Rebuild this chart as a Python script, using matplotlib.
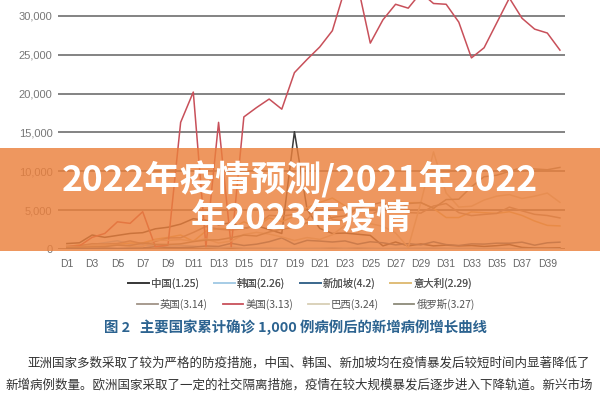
import matplotlib
matplotlib.use("Agg")
from matplotlib import pyplot as plt
from matplotlib.patches import Rectangle
from matplotlib.lines import Line2D

plt.rcParams['font.family'] = ['Noto Sans CJK SC', 'DejaVu Sans']

# Days D1..D40 after 1,000 cumulative cases
days = list(range(1, 41))
tick_days = list(range(1, 40, 2))
tick_labels = ["D%d" % d for d in tick_days]
y_ticks = [0, 5000, 10000, 15000, 20000, 25000, 30000]

china = [700, 800, 1800, 1500, 1750, 2000, 2100, 2600, 2800, 3200, 3900, 3700, 3100, 3400,
         2650, 3000, 2500, 2000, 15100, 5100, 2650, 2000, 2050, 1900, 1750, 400, 900, 400,
         650, 400, 500, 400, 450, 330, 430, 570, 200, 130, 120, 140]
korea = [280, 500, 570, 810, 1060, 600, 520, 440, 520, 480, 370, 250, 130, 240, 110, 110,
         110, 80, 70, 85, 95, 150, 90, 150, 100, 65, 75, 100, 105, 125, 100, 90, 85, 95, 80,
         50, 50, 55, 40, 30]
singapore = [50, 65, 75, 120, 70, 110, 140, 290, 200, 190, 230, 390, 330, 730, 450, 620, 940,
             1430, 600, 1110, 1020, 900, 1040, 620, 930, 800, 530, 690, 530, 930, 570, 450,
             660, 630, 750, 740, 880, 490, 800, 880]
italy = [240, 560, 350, 470, 590, 770, 780, 1250, 1490, 1800, 980, 2310, 2650, 2550, 3500,
         2820, 4000, 3530, 4210, 5320, 5990, 6560, 5560, 4790, 5250, 5210, 6150, 5960, 5970,
         5220, 4050, 4050, 4780, 4670, 4590, 4800, 4320, 3600, 3040, 2970]
uk = [340, 410, 680, 640, 710, 1040, 670, 970, 1430, 1450, 2130, 2890, 2550, 2430, 2620, 3010,
      4320, 4240, 4450, 3740, 5900, 3800, 3630, 5490, 4340, 5250, 5230, 4680, 4620, 5530, 5850,
      4680, 4300, 4450, 4580, 5390, 4910, 4460, 4310, 4000]
usa = [300, 400, 1500, 2000, 3500, 3300, 4800, 300, 500, 16300, 20200, 300, 16300, 300, 17000,
       18200, 19300, 18000, 22700, 24400, 26000, 28100, 33500, 34000, 26500, 29500, 31500,
       31000, 33000, 31600, 31500, 29200, 24600, 25900, 29100, 32300, 29700, 28300, 27800, 25600]
brazil = [350, 230, 480, 500, 490, 350, 320, 1140, 1120, 1210, 1010, 1300, 770, 1030, 1870,
          2140, 1920, 1550, 1090, 1470, 1240, 1830, 3060, 2110, 3260, 2920, 2060, 200, 6000,
          12500, 7200, 5400, 5500, 6300, 6800, 7000, 6500, 6800, 7200, 6000]
russia = [200, 230, 270, 300, 500, 440, 770, 600, 580, 660, 950, 1150, 1180, 1460, 1790, 1670,
          2190, 2560, 2770, 3390, 3450, 4070, 4270, 5240, 5640, 6060, 4770, 5850, 5970, 5240,
          6360, 6410, 8000, 9300, 9500, 10000, 10500, 10300, 10200, 10500]

series = [
    ("中国(1.25)", china, "#3a3a3a"),
    ("韩国(2.26)", korea, "#a8cde6"),
    ("新加坡(4.2)", singapore, "#3e6a8f"),
    ("意大利(2.29)", italy, "#e0be7a"),
    ("英国(3.14)", uk, "#a09387"),
    ("美国(3.13)", usa, "#c8505a"),
    ("巴西(3.24)", brazil, "#d8cfb5"),
    ("俄罗斯(3.27)", russia, "#8c8a7a"),
]

title_lines = ["2022年疫情预测/2021年2022", "年2023年疫情"]
caption = "图 2   主要国家累计确诊 1,000 例病例后的新增病例增长曲线"
body_lines = ["亚洲国家多数采取了较为严格的防疫措施，中国、韩国、新加坡均在疫情暴发后较短时间内显著降低了",
              "新增病例数量。欧洲国家采取了一定的社交隔离措施，疫情在较大规模暴发后逐步进入下降轨道。新兴市场"]


def main():
    fig = plt.figure(figsize=(6, 4), dpi=100)
    fig.patch.set_facecolor("white")
    ax = fig.add_axes([58 / 600, 151 / 400, 507 / 600, 249 / 400])

    for name, vals, color in series:
        ax.plot(days, vals, color=color, lw=1.1, label=name)

    ax.set_xlim(0.3, 40.4)
    ax.set_ylim(0, 32050)
    ax.set_yticks(y_ticks)
    ax.set_yticklabels(["{:,}".format(v) for v in y_ticks], family="Liberation Sans",
                       fontsize=8, color="#777777")
    ax.set_xticks(tick_days)
    ax.set_xticklabels(tick_labels, family="Liberation Sans", fontsize=7.5, color="#666666")
    ax.tick_params(axis="both", length=0)
    ax.tick_params(axis="x", pad=7)
    ax.tick_params(axis="y", pad=4)
    ax.yaxis.grid(True, color="#7a7a7a", lw=1.3)
    ax.set_axisbelow(True)
    for s in ax.spines.values():
        s.set_visible(False)

    # legend: two centred rows
    handles = [Line2D([], [], color=c, lw=1.3) for _, _, c in series]
    names = [n for n, _, _ in series]
    leg_kw = dict(frameon=False, ncol=4, fontsize=7.5, handlelength=2.0, handletextpad=0.2,
                  columnspacing=1.4, labelcolor="#555555", loc="center")
    leg1 = fig.legend(handles[:4], names[:4], bbox_to_anchor=(0.5, 1 - 283 / 400), **leg_kw)
    fig.legend(handles[4:], names[4:], bbox_to_anchor=(0.51, 1 - 304 / 400), **leg_kw)
    fig.add_artist(leg1)

    fig.text(0.492, 1 - 327 / 400, caption, ha="center", va="center", fontsize=10.4,
             fontweight="bold", color="#2c6390")
    fig.text(27 / 600, 1 - 363 / 400, body_lines[0], ha="left", va="center", fontsize=9,
             color="#333333")
    fig.text(5 / 600, 1 - 385 / 400, body_lines[1], ha="left", va="center", fontsize=9,
             color="#333333")

    # orange banner over the chart
    banner = Rectangle((0, 1 - 251 / 400), 1, 103 / 400, transform=fig.transFigure,
                       facecolor="#eb803c", alpha=0.82, edgecolor="none", zorder=5)
    fig.patches.append(banner)
    fig.text(0.5, 1 - 180 / 400, title_lines[0], ha="center", va="center", fontsize=25.5,
             fontweight="bold", color="white", zorder=6)
    fig.text(0.502, 1 - 219 / 400, title_lines[1], ha="center", va="center", fontsize=25,
             fontweight="bold", color="white", zorder=6)

    plt.savefig("out.png", dpi=100)


if __name__ == "__main__":
    main()
